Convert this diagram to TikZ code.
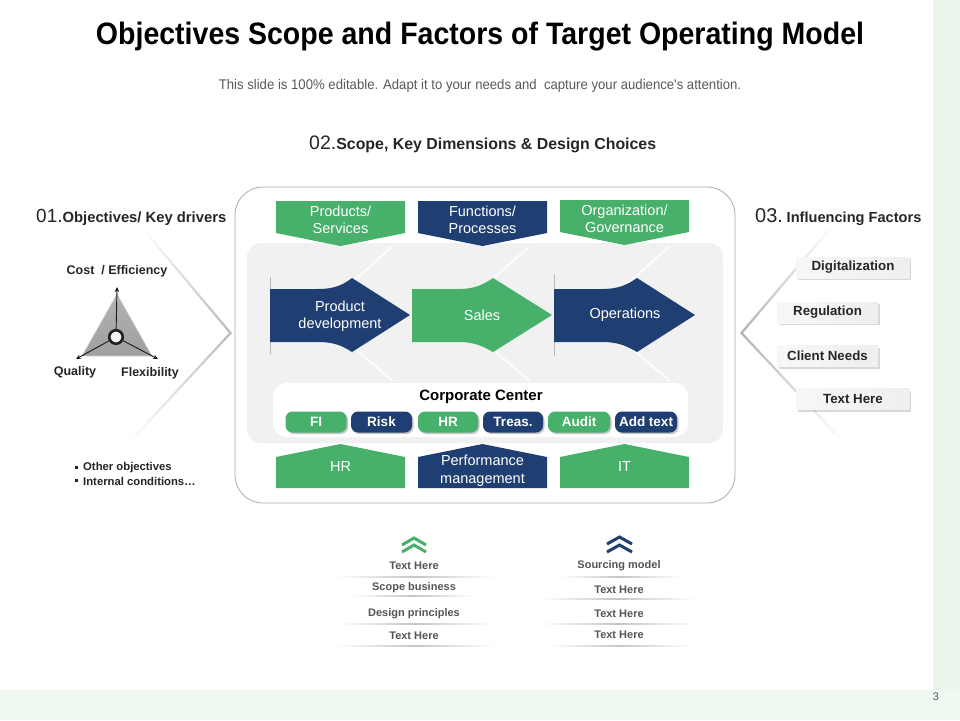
\documentclass[tikz,border=0pt]{standalone}
\usepackage{fontspec}
\setmainfont{Liberation Sans}
\newfontfamily\titlefont[FakeStretch=0.92]{Liberation Sans}
\newfontfamily\narrowfont[FakeStretch=0.94]{Liberation Sans}
\usetikzlibrary{shadows,arrows.meta}
\definecolor{tgreen}{HTML}{47B06A}
\definecolor{tnavy}{HTML}{1F3F72}
\definecolor{panelgray}{HTML}{F1F1F1}
\definecolor{bandgreen}{HTML}{EAF5EC}
\definecolor{txtdark}{HTML}{262626}
\definecolor{txtgray}{HTML}{555555}
\newcommand\fsz[2]{\fontsize{#1}{#2}\selectfont}
\tikzset{
  boxtext/.style={text=white, align=center, font=\fsz{14.5}{17.5}, inner sep=0},
  pillbox/.style={rounded corners=7pt, minimum height=21, minimum width=61, inner sep=0,
     font=\bfseries\fsz{13.5}{15}, text=white,
     drop shadow={shadow xshift=1.5pt, shadow yshift=-1.5pt, opacity=0.45}},
  factorbox/.style={left color=gray!6, right color=gray!13, minimum height=21, inner sep=0, font=\bfseries\fsz{13.3}{15}, text=txtdark,
     drop shadow={shadow xshift=1.5pt, shadow yshift=-2pt, opacity=0.3}},
  itemtext/.style={font=\bfseries\fsz{11}{13}, text=txtgray, inner sep=0},
  faintline/.style={white, line width=1.6},
  trilabel/.style={font=\bfseries\fsz{12.5}{14}, text=txtdark, inner sep=0},
  triarrow/.style={-{Stealth[length=5,width=4.5]}, line width=0.9, gray!20!black},
  chev/.style={line width=3, miter limit=10}
}
\newcommand\sepline[3]{\shade[left color=white, right color=white, middle color=gray!45] (#1,#3-0.7) rectangle (#2,#3+0.7);}
\begin{document}
\begin{tikzpicture}[x=1pt,y=-1pt]
\useasboundingbox (0,0) rectangle (960,720);
\fill[white] (0,0) rectangle (960,720);
% side and bottom bands
\fill[bandgreen] (933,0) rectangle (960,720);
\fill[bandgreen!70!white] (0,690) rectangle (960,720);
\node[font=\fsz{11}{13}, text=gray!70!black] (pagenum) at (936,697) {3};

% title and subtitle
\node[font=\titlefont\bfseries\fsz{31}{34}, text=black] (title) at (480,37) {Objectives Scope and Factors of Target Operating Model};
\node[font=\narrowfont\fsz{14}{16}, text=gray!70!black] (subtitle) at (480,86) {This slide is 100\% editable. Adapt it to your needs and \ capture your audience's attention.};

% section headings
\node[anchor=base west, inner sep=0, text=txtdark] (h02) at (309,149) {{\fsz{19.5}{22}02.}{\bfseries\fsz{15.9}{18}Scope, Key Dimensions \& Design Choices}};
\node[anchor=base west, inner sep=0, text=txtdark] (h01) at (36,222) {{\fsz{19}{22}01.}{\bfseries\fsz{14.8}{17}Objectives/ Key drivers}};
\node[anchor=base west, inner sep=0, text=txtdark] (h03) at (755,222) {{\fsz{20}{23}03.} {\bfseries\fsz{14.6}{17}Influencing Factors}};

% left chevron
\shade[left color=white, right color=gray!55] (143,227) -- (232,333) -- (229,333) -- (140,227) -- cycle;
\shade[left color=white, right color=gray!55] (133,440) -- (232,333) -- (229,333) -- (130,440) -- cycle;

% triangle
\shade[top color=gray!60, bottom color=gray!75, draw=gray!35, line width=0.6] (117,294) -- (152,356) -- (82,356) -- cycle;
\coordinate (vtop) at (117,287);
\coordinate (vleft) at (76,359);
\coordinate (vright) at (158,359);
\node[circle, draw=gray!25!black, line width=2.6, fill=gray!12, minimum size=13.5, inner sep=0] (ctr) at (116,337) {};
\draw[triarrow] (ctr) -- (vtop);
\draw[triarrow] (ctr) -- (vleft);
\draw[triarrow] (ctr) -- (vright);
\node[trilabel] (lcost) at (117,271) {Cost \ / Efficiency};
\node[trilabel] (lqual) at (75,372) {Quality};
\node[trilabel] (lflex) at (150,373) {Flexibility};

% bullets
\fill[txtdark] (75,466) rectangle (78,469);
\fill[txtdark] (75,479) rectangle (78,482);
\node[itemtext, anchor=west, text=txtdark, font=\bfseries\fsz{11.3}{13}] (b1) at (83,468) {Other objectives};
\node[itemtext, anchor=west, text=txtdark, font=\bfseries\fsz{11.3}{13}] (b2) at (83,481) {Internal conditions\ldots};

% right chevron
\shade[left color=gray!60, right color=white] (740,333) -- (830,227) -- (833,227) -- (743,333) -- cycle;
\shade[left color=gray!60, right color=white] (740,333) -- (840,440) -- (843,440) -- (743,333) -- cycle;
\node[factorbox, minimum width=113] (f1) at (853,267.5) {Digitalization};
\node[factorbox, minimum width=101] (f2) at (827.5,312.5) {Regulation};
\node[factorbox, minimum width=101] (f3) at (827.5,356) {Client Needs};
\node[factorbox, minimum width=113] (f4) at (853,399) {Text Here};

% central frame
\draw[gray!65, line width=0.8, rounded corners=28] (235,187) rectangle (735,503);
\fill[panelgray, rounded corners=14] (247,243) rectangle (723,443);
% faint background chevrons
\foreach \dx in {0,137,277} {
  \draw[faintline] (392+\dx,247) -- (315+\dx,315) -- (393+\dx,381);
}
\fill[white, rounded corners=14] (273,383) rectangle (688,437);

% top tabs
\fill[tgreen] (276,201) -- (405,201) -- (405,233) -- (340.5,246) -- (276,233) -- cycle;
\fill[tnavy] (418,201) -- (547,201) -- (547,233) -- (482.5,246) -- (418,233) -- cycle;
\fill[tgreen] (560,200) -- (689,200) -- (689,232) -- (624.5,245) -- (560,232) -- cycle;
\node[boxtext] (tab1) at (340.5,220) {Products/\\Services};
\node[boxtext] (tab2) at (482.5,220) {Functions/\\Processes};
\node[boxtext] (tab3) at (624.5,219) {Organization/\\Governance};

% process arrows
\draw[gray!55, line width=0.5] (270,277) -- (270,354);
\draw[gray!55, line width=0.5] (554,274) -- (554,356);
\fill[tnavy] (270,289) -- (318,289) .. controls (336,289) and (344,284) .. (352,278) -- (410,315) -- (352,352) .. controls (344,347) and (336,342) .. (318,342) -- (270,342) -- cycle;
\fill[tgreen] (412,289) -- (458,289) .. controls (476,289) and (484,284) .. (493,278) -- (552,315) -- (493,352) .. controls (484,347) and (476,342) .. (458,342) -- (412,342) -- cycle;
\fill[tnavy] (554,289) -- (602,289) .. controls (620,289) and (628,284) .. (637,278) -- (695,315) -- (637,352) .. controls (628,347) and (620,342) .. (602,342) -- (554,342) -- cycle;
\node[boxtext] (pdev) at (340,316) {Product\\development};
\node[boxtext] (sales) at (482,315) {Sales};
\node[boxtext] (ops) at (625,315) {Operations};

% corporate center
\node[font=\bfseries\fsz{15}{17}, text=black, inner sep=0] (cc) at (481,397) {Corporate Center};
\node[pillbox, fill=tgreen] (pfi) at (316,422) {FI};
\node[pillbox, fill=tnavy] (prisk) at (381.5,422) {Risk};
\node[pillbox, fill=tgreen, minimum width=60] (phr) at (448,422) {HR};
\node[pillbox, fill=tnavy, minimum width=60] (ptreas) at (513,422) {Treas.};
\node[pillbox, fill=tgreen, minimum width=62] (paudit) at (579,422) {Audit};
\node[pillbox, fill=tnavy, minimum width=62] (padd) at (646,422) {Add text};

% bottom tabs
\fill[tgreen] (276,457) -- (340.5,444) -- (405,457) -- (405,488) -- (276,488) -- cycle;
\fill[tnavy] (418,457) -- (482.5,444) -- (547,457) -- (547,488) -- (418,488) -- cycle;
\fill[tgreen] (560,457) -- (624.5,444) -- (689,457) -- (689,488) -- (560,488) -- cycle;
\node[boxtext] (bt1) at (340.5,467) {HR};
\node[boxtext] (bt2) at (482.5,471) {Performance\\management};
\node[boxtext] (bt3) at (624.5,467) {IT};

% bottom lists
\draw[chev, tgreen] (402,545) -- (414,538) -- (426,545);
\draw[chev, tgreen] (402,552) -- (414,545) -- (426,552);
\draw[chev, tnavy] (607,544) -- (619.5,537) -- (632,544);
\draw[chev, tnavy] (607,552) -- (619.5,545) -- (632,552);

\node[itemtext] (l1) at (414,566) {Text Here};
\sepline{335}{495}{577}
\node[itemtext] (l2) at (414,588) {Scope business};
\sepline{352}{473}{596}
\node[itemtext] (l3) at (414,614) {Design principles};
\sepline{335}{495}{624}
\node[itemtext] (l4) at (414,636) {Text Here};
\sepline{335}{495}{646}

\node[itemtext] (r1) at (619,566) {Sourcing model};
\sepline{560}{680}{577}
\node[itemtext] (r2) at (619,590) {Text Here};
\sepline{540}{697}{599}
\node[itemtext] (r3) at (619,614) {Text Here};
\sepline{540}{697}{624}
\node[itemtext] (r4) at (619,635) {Text Here};
\sepline{550}{690}{646}
\end{tikzpicture}
\end{document}
